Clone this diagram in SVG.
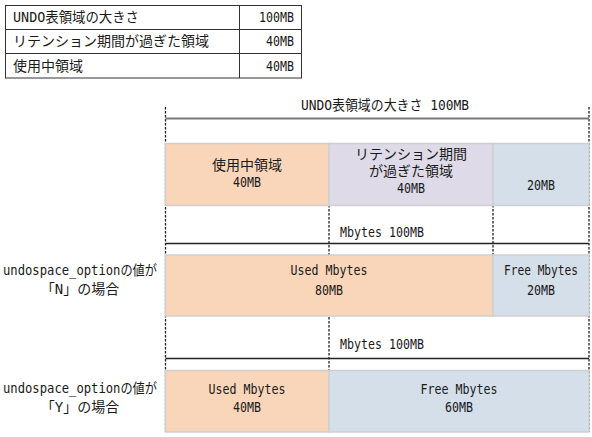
<svg xmlns="http://www.w3.org/2000/svg" width="592" height="437" viewBox="0 0 592 437">
<style>
.t{font-family:"DejaVu Sans Mono","Noto Sans CJK JP",monospace;font-size:14px;fill:#1a1a1a}
.m{text-anchor:middle}
.e{text-anchor:end}
.tb{fill:none;stroke:#333;stroke-width:1}
.box{stroke:#cfcfcf;stroke-width:1.5}
.or{fill:#F9D6B9}
.pu{fill:#DEDAE7}
.bl{fill:#D5DFEA}
.dash{stroke:#222;stroke-width:1.3;stroke-dasharray:2.5 1.5;fill:none}
.dim{stroke:#222;stroke-width:1.4;fill:none}
</style>
<rect width="592" height="437" fill="#fff"/>

<g id="table">
  <rect class="tb" x="5.5" y="5.5" width="296" height="72.5"/>
  <line class="tb" x1="5.5" y1="29.5" x2="301.5" y2="29.5"/>
  <line class="tb" x1="5.5" y1="53.5" x2="301.5" y2="53.5"/>
  <line class="tb" x1="239.5" y1="5.5" x2="239.5" y2="78"/>
  <text class="t" x="13" y="22" textLength="126" lengthAdjust="spacingAndGlyphs">UNDO表領域の大きさ</text>
  <text class="t e" x="294" y="22" textLength="35" lengthAdjust="spacingAndGlyphs">100MB</text>
  <text class="t" x="13" y="46">リテンション期間が過ぎた領域</text>
  <text class="t e" x="294" y="46" textLength="28" lengthAdjust="spacingAndGlyphs">40MB</text>
  <text class="t" x="13" y="71">使用中領域</text>
  <text class="t e" x="294" y="71" textLength="28" lengthAdjust="spacingAndGlyphs">40MB</text>
</g>

<g id="connectors">
  <line class="dash" x1="165.5" y1="107" x2="165.5" y2="432"/>
  <line class="dash" x1="589" y1="107" x2="589" y2="432"/>
  <line class="dash" x1="329" y1="205" x2="329" y2="371"/>
  <line class="dash" x1="493" y1="205" x2="493" y2="255"/>
  <line x1="165.5" y1="118.5" x2="589" y2="118.5" stroke="#7a7a7a" stroke-width="2"/>
  <line class="dim" x1="165.5" y1="243.5" x2="589" y2="243.5"/>
  <line class="dim" x1="165.5" y1="358.5" x2="589" y2="358.5"/>
</g>

<g id="title-total">
  <text class="t m" x="385" y="110" textLength="168" lengthAdjust="spacingAndGlyphs">UNDO表領域の大きさ 100MB</text>
</g>

<g id="used-area">
  <rect class="box or" x="165.5" y="143.5" width="163.5" height="62"/>
  <text class="t m" x="247" y="170">使用中領域</text>
  <text class="t m" x="247" y="187" textLength="28" lengthAdjust="spacingAndGlyphs">40MB</text>
</g>
<g id="expired-area">
  <rect class="box pu" x="329" y="143.5" width="164" height="62"/>
  <text class="t m" x="411" y="158.5">リテンション期間</text>
  <text class="t m" x="411" y="175.5">が過ぎた領域</text>
  <text class="t m" x="411" y="193" textLength="28" lengthAdjust="spacingAndGlyphs">40MB</text>
</g>
<g id="free-area">
  <rect class="box bl" x="493" y="143.5" width="96" height="62"/>
  <text class="t m" x="541" y="190" textLength="28" lengthAdjust="spacingAndGlyphs">20MB</text>
</g>

<g id="label-n">
  <text class="t m" x="80" y="275" textLength="154" lengthAdjust="spacingAndGlyphs">undospace_optionの値が</text>
  <text class="t m" x="80" y="294">「N」の場合</text>
</g>
<g id="mbytes-n">
  <text class="t" x="340" y="237" textLength="84" lengthAdjust="spacingAndGlyphs">Mbytes 100MB</text>
</g>
<g id="used-n">
  <rect class="box or" x="165.5" y="255" width="327.5" height="61"/>
  <text class="t m" x="329" y="275" textLength="77" lengthAdjust="spacingAndGlyphs">Used Mbytes</text>
  <text class="t m" x="329" y="295" textLength="28" lengthAdjust="spacingAndGlyphs">80MB</text>
</g>
<g id="free-n">
  <rect class="box bl" x="493" y="255" width="96" height="61"/>
  <text class="t m" x="541" y="275" font-size="13" textLength="74" lengthAdjust="spacingAndGlyphs">Free Mbytes</text>
  <text class="t m" x="541" y="295" textLength="28" lengthAdjust="spacingAndGlyphs">20MB</text>
</g>

<g id="label-y">
  <text class="t m" x="80" y="393" textLength="154" lengthAdjust="spacingAndGlyphs">undospace_optionの値が</text>
  <text class="t m" x="80" y="412">「Y」の場合</text>
</g>
<g id="mbytes-y">
  <text class="t" x="340" y="349" textLength="84" lengthAdjust="spacingAndGlyphs">Mbytes 100MB</text>
</g>
<g id="used-y">
  <rect class="box or" x="165.5" y="370.5" width="163.5" height="61.5"/>
  <text class="t m" x="247" y="394" textLength="77" lengthAdjust="spacingAndGlyphs">Used Mbytes</text>
  <text class="t m" x="247" y="412" textLength="28" lengthAdjust="spacingAndGlyphs">40MB</text>
</g>
<g id="free-y">
  <rect class="box bl" x="329" y="370.5" width="260" height="61.5"/>
  <text class="t m" x="459" y="394" textLength="77" lengthAdjust="spacingAndGlyphs">Free Mbytes</text>
  <text class="t m" x="459" y="412" textLength="28" lengthAdjust="spacingAndGlyphs">60MB</text>
</g>
</svg>
